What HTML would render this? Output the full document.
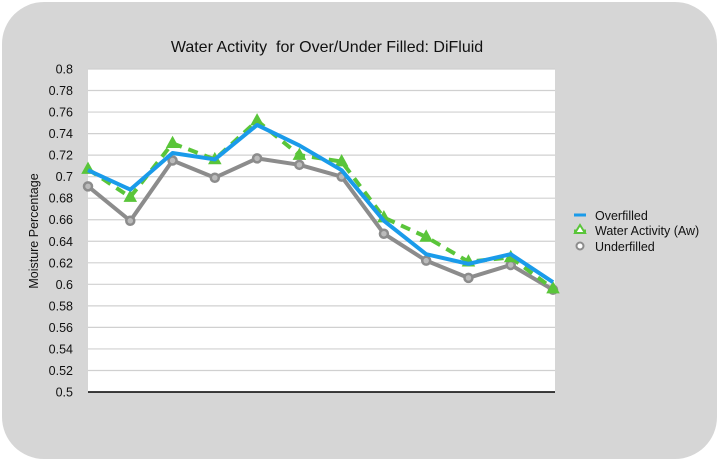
<!DOCTYPE html>
<html><head><meta charset="utf-8"><style>
html,body{margin:0;padding:0;background:#fff;width:720px;height:462px;overflow:hidden}
svg{display:block;font-family:"Liberation Sans",sans-serif}
</style></head><body>
<svg id="chart" width="720" height="462">
<rect x="2" y="2" width="715" height="457" rx="42" fill="#d6d6d6"/>
<rect x="88" y="69" width="467" height="323" fill="#fff"/>
<text x="327" y="52" font-size="16" text-anchor="middle" fill="#111" style="white-space:pre" xml:space="preserve">Water Activity  for Over/Under Filled: DiFluid</text>
<text transform="translate(38,231) rotate(-90)" font-size="12.5" text-anchor="middle" fill="#111">Moisture Percentage</text>
<g id="grid"></g><g id="series"></g>
<g>
<g><line x1="574" y1="215" x2="586" y2="215" stroke="#1a9bea" stroke-width="3"/><text x="595" y="220" font-size="12.5" fill="#111">Overfilled</text></g>
<g><line x1="574" y1="231" x2="586" y2="231" stroke="#5ac53a" stroke-width="3"/><polygon points="580,225 585,233 575,233" fill="#fff" stroke="#5ac53a" stroke-width="2"/><text x="595" y="235" font-size="12.5" fill="#111">Water Activity (Aw)</text></g>
<g><circle cx="580" cy="246" r="3.5" fill="#fff" stroke="#8c8c8c" stroke-width="2"/><text x="595" y="251" font-size="12.5" fill="#111">Underfilled</text></g>
</g>
</svg>
<script>
const yTicks=[0.5,0.52,0.54,0.56,0.58,0.6,0.62,0.64,0.66,0.68,0.7,0.72,0.74,0.76,0.78,0.8];
const tickLabels=["0.5","0.52","0.54","0.56","0.58","0.6","0.62","0.64","0.66","0.68","0.7","0.72","0.74","0.76","0.78","0.8"];
const categories=[1,2,3,4,5,6,7,8,9,10,11,12];
const overfilled=[0.706,0.688,0.722,0.716,0.748,0.729,0.706,0.659,0.628,0.619,0.628,0.602];
const waterActivity=[0.707,0.681,0.731,0.716,0.752,0.720,0.714,0.662,0.644,0.621,0.625,0.596];
const underfilled=[0.691,0.659,0.715,0.699,0.717,0.711,0.700,0.647,0.622,0.606,0.618,0.595];
const NS="http://www.w3.org/2000/svg";
const y=v=>392-(v-0.5)/0.3*323;
const x=i=>88+i*(465/(categories.length-1));
function mk(t,a,p){const e=document.createElementNS(NS,t);for(const k in a)e.setAttribute(k,a[k]);p.appendChild(e);return e;}
const grid=document.getElementById('grid'),ser=document.getElementById('series');
yTicks.forEach((v,i)=>{
 if(v>0.5){const l=mk('line',{x1:88,x2:555,y1:y(v),y2:y(v),stroke:'#d0d0d0','stroke-width':1.2},grid);
 
 }
 const t=mk('text',{x:73,y:y(v)+4.5,'font-size':12.5,'text-anchor':'end',fill:'#111'},grid);t.textContent=tickLabels[i];
 
 
});
const ax=mk('line',{x1:88,x2:555,y1:392,y2:392,stroke:'#000','stroke-width':1.5},grid);


function pts(d){return d.map((v,i)=>x(i)+','+y(v)).join(' ');}
const u=mk('polyline',{points:pts(underfilled),fill:'none',stroke:'#8c8c8c','stroke-width':4,'stroke-linejoin':'round'},ser);


underfilled.forEach((v,i)=>{const c=mk('circle',{cx:x(i),cy:y(v),r:4,fill:'#bbb',stroke:'#8c8c8c','stroke-width':2.5},ser);
 
 });
const w=mk('polyline',{points:pts(waterActivity),fill:'none',stroke:'#5ac53a','stroke-width':4,'stroke-dasharray':'10,7'},ser);


waterActivity.forEach((v,i)=>{const px=x(i),py=y(v);const p=mk('polygon',{points:`${px},${py-6} ${px+5.5},${py+4} ${px-5.5},${py+4}`,fill:'#5ac53a',stroke:'#5ac53a','stroke-width':1.5},ser);
 
 });
const o=mk('polyline',{points:pts(overfilled),fill:'none',stroke:'#1a9bea','stroke-width':4,'stroke-linejoin':'round'},ser);


</script>
</body></html>
